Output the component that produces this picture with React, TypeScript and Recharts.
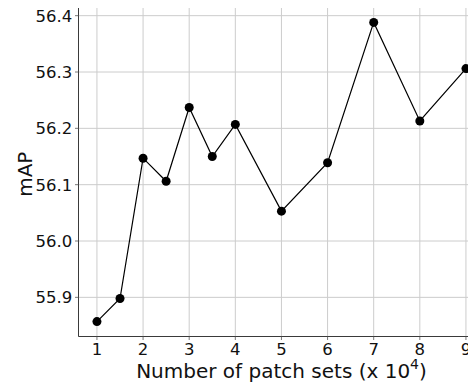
import React from 'react';
import { LineChart, Line, XAxis, YAxis, CartesianGrid } from 'recharts';

const patchSets = [1, 1.5, 2, 2.5, 3, 3.5, 4, 5, 6, 7, 8, 9];
const mapValues = [55.857, 55.898, 56.147, 56.106, 56.237, 56.15, 56.207, 56.053, 56.139, 56.388, 56.213, 56.306];
const xTicks = [1, 2, 3, 4, 5, 6, 7, 8, 9];
const yTicks = [55.9, 56.0, 56.1, 56.2, 56.3, 56.4];

const data = patchSets.map((x, i) => ({ x, y: mapValues[i] }));

const FONT = '"DejaVu Sans", sans-serif';
const AXIS = '#3a3a3a';
const TICK = '#555';

export default function App() {
  return (
    <div style={{ marginLeft: -8, marginTop: -8, width: 476, height: 389, overflow: 'hidden', position: 'relative' }}>
      <LineChart
        width={490}
        height={389}
        data={data}
        margin={{ top: 7.5, right: 5.6, bottom: 0, left: 0 }}
        style={{ fontFamily: FONT }}
      >
        <CartesianGrid stroke="#cccccc" strokeWidth={1} />
        <XAxis
          dataKey="x"
          type="number"
          domain={[0.6, 9.4]}
          ticks={xTicks}
          allowDataOverflow
          height={52.5}
          tickSize={3.5}
          tickMargin={3}
          tickLine={{ stroke: TICK, strokeWidth: 0.8 }}
          axisLine={{ stroke: AXIS, strokeWidth: 1 }}
          tick={{ fill: '#111', fontSize: 16.5, fontFamily: FONT }}
          label={{
            content: () => (
              <text x={281.5} y={378} textAnchor="middle" fill="#111" fontSize={20} fontFamily={FONT}>
                <tspan>Number of patch sets (x 10</tspan>
                <tspan dy={-9} fontSize={14}>4</tspan>
                <tspan dy={9}>)</tspan>
              </text>
            ),
          }}
        />
        <XAxis
          xAxisId="top"
          orientation="top"
          type="number"
          domain={[0.6, 9.4]}
          height={0}
          tick={false}
          tickLine={false}
          axisLine={{ stroke: AXIS, strokeWidth: 1 }}
        />
        <YAxis
          type="number"
          domain={[55.8305, 56.4145]}
          ticks={yTicks}
          allowDataOverflow
          width={78.5}
          tickSize={3.5}
          tickMargin={2.7}
          tickLine={{ stroke: TICK, strokeWidth: 0.8 }}
          axisLine={{ stroke: AXIS, strokeWidth: 1 }}
          tickFormatter={(v: number) => v.toFixed(1)}
          tick={{ fill: '#111', fontSize: 16.5, fontFamily: FONT }}
          label={{
            content: () => (
              <text
                x={0}
                y={0}
                transform="translate(31.5,174.2) rotate(-90)"
                textAnchor="middle"
                fill="#111"
                fontSize={20}
                fontFamily={FONT}
              >
                mAP
              </text>
            ),
          }}
        />
        <Line
          dataKey="y"
          stroke="#000"
          strokeWidth={1.2}
          isAnimationActive={false}
          dot={{ r: 4.5, fill: '#000', stroke: '#000', strokeWidth: 0 }}
          activeDot={false}
        />
      </LineChart>
    </div>
  );
}
